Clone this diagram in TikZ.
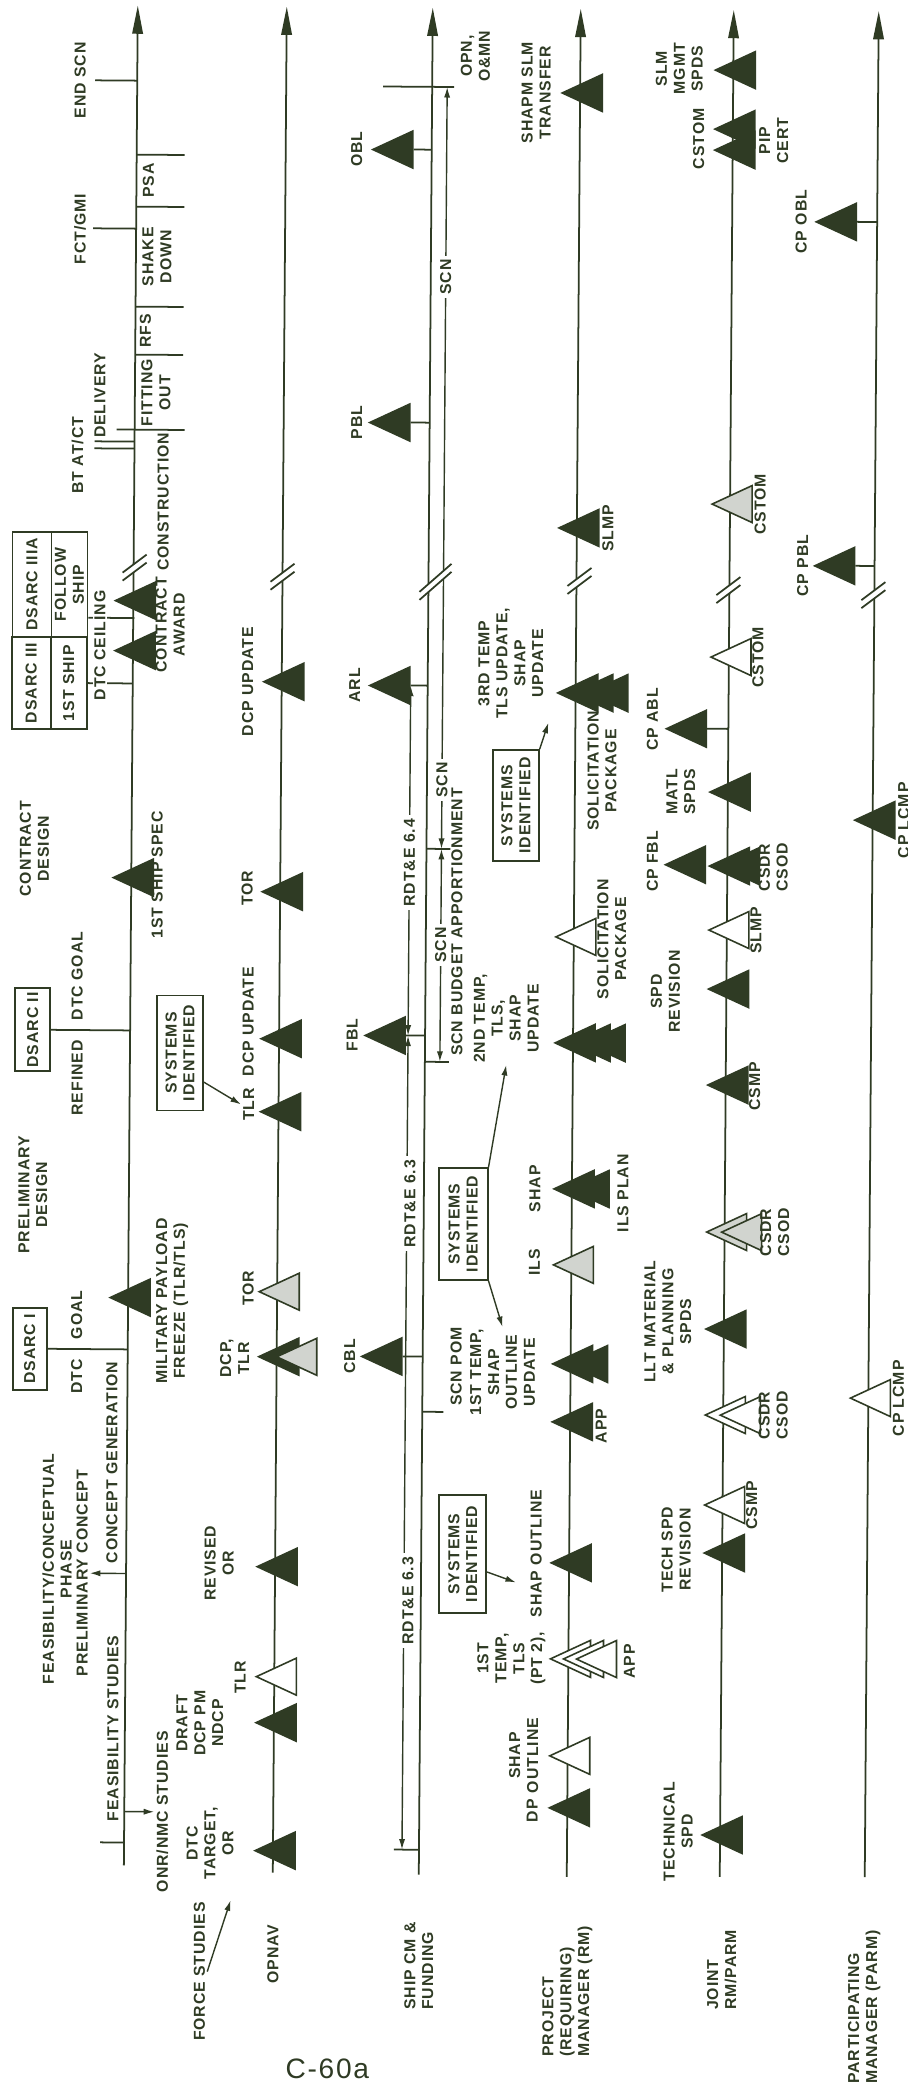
\documentclass[tikz,border=0pt]{standalone}
\usepackage{fontspec}
\setmainfont{Liberation Sans}[LetterSpace=6]
\usepackage{tikz}
\usetikzlibrary{positioning,arrows.meta,calc,shapes.geometric}
\definecolor{ink}{HTML}{2F3B24}

\begin{document}
\begin{tikzpicture}[
  x=0.02cm, y=-0.02cm,
  font=\fontsize{9}{10.2}\selectfont\bfseries,
  lane/.style = {draw=ink, line width=1pt, -{Triangle[length=16pt,width=6pt]}},
  tick/.style = {draw=ink, line width=1pt},
  dim/.style  = {draw=ink, line width=0.8pt,
                 {Latex[length=6pt,width=3.5pt]}-{Latex[length=6pt,width=3.5pt]}},
  arr/.style  = {draw=ink, line width=0.8pt, -{Latex[length=6pt,width=3.5pt]}},
  lbl/.style  = {rotate=90, align=center, inner sep=1pt, text=ink},
  cut/.style  = {lbl, fill=white, inner sep=2pt},
  ttl/.style  = {lbl, align=left, anchor=west},
  box/.style  = {lbl, draw=ink, line width=1pt},
  mk/.style   = {isosceles triangle, isosceles triangle stretches,
                 shape border rotate=180, inner sep=0pt,
                 minimum width=0.74cm, minimum height=0.8cm,
                 draw=ink, line width=0.9pt, anchor=apex, xshift=-0.4cm},
  mkf/.style  = {mk, fill=ink},
  mko/.style  = {mk, fill=white},
  mkg/.style  = {mk, fill=ink!22},
  brk/.pic    = {\fill[white] (-12,5) -- (12,-13) -- (12,-5) -- (-12,13) -- cycle;
                 \draw[tick] (-12,5) -- (12,-13) (-12,13) -- (12,-5);},
  brkw/.pic   = {\fill[white] (-16,10) -- (16,-18) -- (16,-10) -- (-16,18) -- cycle;
                 \draw[tick] (-16,10) -- (16,-18) (-16,18) -- (16,-10);}
]
\fill[white] (0,0) rectangle (908,2092);
\useasboundingbox (0,0) rectangle (908,2092);

\begin{scope}[rotate around={-0.43:(454,1046)}]
% Lanes
\coordinate (fs-t) at (130,8);  \coordinate (fs-b) at (130,1868);
\coordinate (op-t) at (279,8);  \coordinate (op-b) at (279,1874);
\coordinate (sh-t) at (425,8);  \coordinate (sh-b) at (425,1875);
\coordinate (pm-t) at (573,8);  \coordinate (pm-b) at (573,1876);
\coordinate (jt-t) at (726,8);  \coordinate (jt-b) at (726,1875);
\coordinate (pa-t) at (871,8);  \coordinate (pa-b) at (871,1874);
\foreach \l in {fs,op,sh,pm,jt,pa}
  \draw[lane] (\l-b) -- (\l-t);

% Force studies
\draw[tick] (88,83) -- (130,83);
\node[lbl] (endscn) at (73,83) {END SCN};
\draw[tick] (87,231) -- (130,231);
\node[lbl] (fct) at (74,232) {FCT/GMI};
\foreach \y in {157,209,309,357} \draw[tick] (130,\y) -- (178,\y);
\draw[tick] (112,432) -- (180,432);
\node[lbl] (psa) at (142,183) {PSA};
\node[lbl] (shake) at (151,259) {SHAKE\\DOWN};
\node[lbl] (rfs) at (140,333) {RFS};
\node[lbl] (fit) at (151,395) {FITTING\\OUT};
\node[lbl] (deliv) at (95,398) {DELIVERY};
\draw[tick] (90,444) -- (130,444);
\draw[tick] (90,451) -- (130,451);
\node[lbl] (btat) at (73,458) {BT AT/CT};
\node[lbl] (constr) at (159,504) {CONSTRUCTION};
\pic at (131,570) {brk};

\node[box, minimum width=2.1cm, minimum height=0.78cm] (ds3a) at (28.5,587.5) {DSARC IIIA};
\node[box, minimum width=1.84cm, minimum height=0.78cm] (ds3) at (28.5,686) {DSARC III};
\node[box, minimum width=2.1cm, minimum height=0.72cm] (fship) at (66,587.5) {FOLLOW\\SHIP};
\node[box, minimum width=1.84cm, minimum height=0.72cm] (ship1) at (66,686) {1ST SHIP};
\draw[tick] (ship1.south) -- (ship1.south -| fs-t);
\draw[tick] ($(fship.south west)!0.19!(fship.south east)$) -- ++(46,0);
\node[cut, inner sep=1pt] (dtcc) at (97,648) {DTC CEILING};
\node[mkf] (aw1) at (130,603) {};
\node[mkf] (aw2) at (130,653) {};
\node[lbl] (award) at (167,627) {CONTRACT\\AWARD};

\node[lbl] (cdes) at (33,852) {CONTRACT\\DESIGN};
\node[mkf] (spec) at (130,880) {};
\node[lbl] (specl) at (156,877) {1ST SHIP SPEC};

\node[box, minimum width=1.66cm, minimum height=0.7cm] (ds2) at (32.5,1033) {DSARC II};
\draw[tick] (ds2.south) -- (ds2.south -| fs-t);
\node[lbl, anchor=east] (refd) at (77,1041) {REFINED};
\node[lbl, anchor=west] (dtcg2) at (77,1025) {DTC GOAL};

\node[lbl] (pdes) at (34,1198) {PRELIMINARY\\DESIGN};
\node[mkf] (mpay) at (130,1300) {};
\node[lbl] (mpayl) at (174,1303) {MILITARY PAYLOAD\\FREEZE (TLR/TLS)};

\node[box, minimum width=1.64cm, minimum height=0.68cm] (ds1) at (32,1352) {DSARC I};
\draw[tick] (ds1.south) -- (ds1.south -| fs-t);
\node[lbl, anchor=east] (dtc1) at (79,1360) {DTC};
\node[lbl, anchor=west] (goal1) at (79,1344) {GOAL};

\node[lbl] (cgen) at (115,1465) {CONCEPT GENERATION};
\node[lbl] (fcp) at (61,1572) {FEASIBILITY/CONCEPTUAL\\PHASE};
\node[lbl] (precon) at (86,1576) {PRELIMINARY CONCEPT};
\draw[arr] (130,1576) -- (precon.south);
\node[lbl] (fstud) at (118,1731) {FEASIBILITY STUDIES};
\node[lbl] (onr) at (168,1814) {ONR/NMC STUDIES};
\draw[arr] (130,1814) -- (onr.north);
\draw[tick] (106,1845) -- (130,1845);

% OPNAV
\pic at (279,578) {brk};
\node[mkf] (op1) at (279,683) {};
\node[lbl] (op1l) at (245,683) {DCP UPDATE};
\node[mkf] (op2) at (279,893) {};
\node[lbl] (op2l) at (246,890) {TOR};
\node[mkf] (op3) at (279,1040) {};
\node[lbl] (op3l) at (248,1023) {DCP UPDATE};
\node[box, minimum width=2.3cm, minimum height=0.92cm] (sysA) at (180,1055) {SYSTEMS\\IDENTIFIED};
\node[mkf] (op4) at (279,1113) {};
\node[lbl] (op4l) at (249,1106) {TLR};
\draw[arr] ($(sysA.south west)!0.25!(sysA.south east)$) -- (op4l.north);
\node[mkg] (op5) at (279,1293) {};
\node[lbl] (op5l) at (250,1290) {TOR};
\node[mkf] (op6) at (279,1358) {};
\node[mkg] (op6b) at (297,1358) {};
\node[lbl] (op6l) at (237,1360) {DCP,\\TLR};
\node[mkf] (op7) at (279,1568) {};
\node[lbl] (op7l) at (223,1565) {REVISED\\OR};
\node[mko] (op8) at (279,1678) {};
\node[lbl] (op8l) at (245,1679) {TLR};
\node[mkf] (op9) at (279,1724) {};
\node[lbl] (op9l) at (205,1725) {DRAFT\\DCP PM\\NDCP};
\node[mkf] (op10) at (279,1852) {};
\node[lbl] (op10l) at (216,1845) {DTC\\TARGET,\\OR};

% Ship CM & funding
\draw[tick] (376,87) -- (447,87);
\node[lbl] (opn) at (468,56) {OPN,\\O\&MN};
\node[mkf] (obl) at (384,150) {};
\draw[tick] (obl.east) -- (obl.east -| sh-t);
\node[lbl] (obll) at (350,150) {OBL};
\draw[dim] (440,849) -- (440,87);
\node[cut] (scn1) at (440,277) {SCN};
\node[cut] (scn2) at (440,780) {SCN};
\node[mkf] (pbl) at (383,423) {};
\draw[tick] (pbl.east) -- (pbl.east -| sh-t);
\node[lbl] (pbll) at (352,423) {PBL};
\node[mkf] (arl) at (385,686) {};
\draw[tick] (arl.east) -- (arl.east -| sh-t);
\node[lbl] (arll) at (352,686) {ARL};
\pic at (432,582) {brkw};
\draw[dim] (408,686) -- (408,1036);
\node[cut] (rd64) at (408,863) {RDT\&E 6.4};
\draw[tick] (425,849) -- (449,849);
\draw[dim] (440,1062) -- (440,849);
\node[cut] (scn3) at (440,945) {SCN};
\draw[tick] (425,1062) -- (449,1062);
\node[lbl, anchor=west] (budget) at (457,1058) {SCN BUDGET APPORTIONMENT};
\node[mkf] (fbl) at (383,1036) {};
\draw[tick] (fbl.east) -- (fbl.east -| sh-t);
\node[lbl] (fbll) at (352,1036) {FBL};
\draw[dim] (408,1036) -- (408,1850);
\node[cut] (rd63a) at (411,1204) {RDT\&E 6.3};
\node[cut] (rd63b) at (412,1601) {RDT\&E 6.3};
\node[mkf] (cbl) at (382,1357) {};
\draw[tick] (cbl.east) -- (cbl.east -| sh-t);
\node[lbl] (cbll) at (352,1357) {CBL};
\draw[tick] (425,1412) -- (446,1412);
\node[lbl, anchor=west] (pom) at (459,1408) {SCN POM};
\draw[tick] (400,1850) -- (425,1850);

% Project (requiring) manager
\node[mkf] (pm1) at (573,92) {};
\node[lbl] (pm1l) at (529,92) {SHAPM SLM\\TRANSFER};
\node[mkf] (pm2) at (573,527) {};
\node[lbl] (pm2l) at (604,527) {SLMP};
\pic at (576,580) {brk};
\node[lbl] (t3l) at (508,663) {3RD TEMP\\TLS UPDATE,\\SHAP\\UPDATE};
\node[mkf] (t3a) at (573,692) {};
\node[mkf] (t3b) at (588,692) {};
\node[mkf] (t3c) at (603,692) {};
\node[lbl] (sol1) at (600,770) {SOLICITATION\\PACKAGE};
\node[box, minimum width=2.22cm, minimum height=0.92cm] (sysB) at (514,805) {SYSTEMS\\IDENTIFIED};
\coordinate (sysB-to) at (546,722);
\draw[arr] (sysB.south east) -- (sysB-to);
\node[mko] (pm3) at (573,936) {};
\node[lbl] (sol2) at (611,938) {SOLICITATION\\PACKAGE};
\node[lbl] (t2l) at (506,1018) {2ND TEMP,\\TLS,\\SHAP\\UPDATE};
\node[mkf] (t2a) at (573,1042) {};
\node[mkf] (t2b) at (588,1042) {};
\node[mkf] (t2c) at (603,1042) {};
\node[box, minimum width=2.24cm, minimum height=0.98cm] (sysC) at (464.5,1224) {SYSTEMS\\IDENTIFIED};
\node[mkf] (sha) at (573,1188) {};
\node[mkf] (shb) at (588,1188) {};
\node[lbl] (shal) at (536,1188) {SHAP};
\node[lbl] (ilsp) at (624,1192) {ILS PLAN};
\node[mkg] (ils) at (573,1264) {};
\node[lbl] (ilsl) at (536,1262) {ILS};
\node[mkf] (t1a) at (573,1363) {};
\node[mkf] (t1b) at (588,1363) {};
\node[lbl] (t1l) at (505,1372) {1ST TEMP,\\SHAP\\OUTLINE\\UPDATE};
\draw[arr] (sysC.south east) -- (t2l.west);
\draw[arr] (sysC.south west) -- (t1l.east);
\node[mkf] (app1) at (573,1421) {};
\node[lbl] (app1l) at (604,1425) {APP};
\node[box, minimum width=2.36cm, minimum height=0.94cm] (sysD) at (466.5,1554) {SYSTEMS\\IDENTIFIED};
\coordinate (sysD-to) at (520,1582);
\draw[arr] ($(sysD.south west)!0.35!(sysD.south east)$) -- (sysD-to);
\node[lbl] (shout) at (540,1553) {SHAP OUTLINE};
\node[mkf] (pm4) at (573,1562) {};
\node[mko] (tpa) at (573,1658) {};
\node[mko] (tpb) at (586,1658) {};
\node[mko] (tpc) at (599,1658) {};
\node[lbl] (tpl) at (516,1658) {1ST\\TEMP,\\TLS\\(PT 2),};
\node[lbl] (app2l) at (634,1660) {APP};
\node[mko] (pm5) at (573,1755) {};
\node[lbl] (pm5l) at (529,1755) {SHAP\\OUTLINE};
\node[mkf] (pm6) at (573,1807) {};
\node[lbl] (pm6l) at (538,1810) {DP};

% Joint RM/PARM
\node[mkf] (jt1) at (726,68) {};
\node[lbl] (jt1l) at (672,67) {SLM\\MGMT\\SPDS};
\node[mkf] (jt2a) at (726,127) {};
\node[mkf] (jt2b) at (726,148) {};
\node[lbl] (jt2l) at (692,137) {CSTOM};
\node[lbl] (jt2r) at (767,138) {PIP\\CERT};
\node[mkg] (jt3) at (726,502) {};
\node[lbl] (jt3l) at (756,502) {CSTOM};
\pic at (725,588) {brk};
\node[mko] (jt4) at (726,655) {};
\node[lbl] (jt4l) at (755,655) {CSTOM};
\node[mkf] (cpabl) at (682,727) {};
\draw[tick] (cpabl.east) -- (cpabl.east -| jt-t);
\node[lbl] (cpabll) at (650,718) {CP ABL};
\node[mkf] (jt5) at (726,790) {};
\node[lbl] (jt5l) at (679,790) {MATL\\SPDS};
\node[mkf] (cpfbl) at (682,863) {};
\node[lbl] (cpfbll) at (651,860) {CP FBL};
\node[mkf] (jt6a) at (726,864) {};
\node[mkf] (jt6b) at (736,864) {};
\node[lbl] (jt6l) at (772,865) {CSDR\\CSOD};
\node[mko] (jt7) at (726,928) {};
\node[lbl] (jt7l) at (755,928) {SLMP};
\node[mkf] (jt8) at (726,987) {};
\node[lbl] (jt8l) at (665,990) {SPD\\REVISION};
\node[mkf] (jt9) at (726,1083) {};
\node[lbl] (jt9l) at (755,1084) {CSMP};
\node[mkg] (jt10a) at (726,1230) {};
\node[mkg] (jt10b) at (741,1230) {};
\node[lbl] (jt10l) at (776,1230) {CSDR\\CSOD};
\node[mkf] (jt11) at (726,1327) {};
\node[lbl] (jt11l) at (670,1320) {LLT MATERIAL\\\& PLANNING\\SPDS};
\node[mko] (jt12a) at (726,1413) {};
\node[mko] (jt12b) at (741,1413) {};
\node[lbl] (jt12l) at (776,1413) {CSDR\\CSOD};
\node[mko] (jt13) at (726,1503) {};
\node[lbl] (jt13l) at (755,1503) {CSMP};
\node[mkf] (jt14) at (726,1551) {};
\node[lbl] (jt14l) at (680,1548) {TECH SPD\\REVISION};
\node[mkf] (jt15) at (726,1833) {};
\node[lbl] (jt15l) at (684,1830) {TECHNICAL\\SPD};

% Participating manager
\node[mkf] (cpobl) at (828,219) {};
\draw[tick] (cpobl.east) -- (cpobl.east -| pa-t);
\node[lbl] (cpobll) at (795,219) {CP OBL};
\node[mkf] (cppbl) at (829,563) {};
\draw[tick] (cppbl.east) -- (cppbl.east -| pa-t);
\node[lbl] (cppbll) at (799,563) {CP PBL};
\pic at (870,592) {brk};
\node[mkf] (pa1) at (871,817) {};
\node[lbl] (pa1l) at (902,817) {CP LCMP};
\node[mko] (pa2) at (871,1395) {};
\node[lbl] (pa2l) at (901,1395) {CP LCMP};

% Lane titles
\node[ttl] (tfs) at (207,2045) {FORCE STUDIES};
\coordinate (tfs-to) at (237,1902);
\draw[arr] (tfs.south) -- (tfs-to);
\node[ttl] (top) at (280,1987) {OPNAV};
\node[ttl] (tsh) at (426,2012) {SHIP CM \&\\FUNDING};
\node[ttl] (tpm) at (575,2058) {PROJECT\\(REQUIRING)\\MANAGER (RM)};
\node[ttl] (tjt) at (729,2010) {JOINT\\RM/PARM};
\node[ttl] (tpa) at (872,2083) {PARTICIPATING\\MANAGER (PARM)};
\node[text=ink, font=\fontsize{16}{18}\selectfont] (pg) at (335,2070) {C-60a};
\end{scope}
\end{tikzpicture}
\end{document}
